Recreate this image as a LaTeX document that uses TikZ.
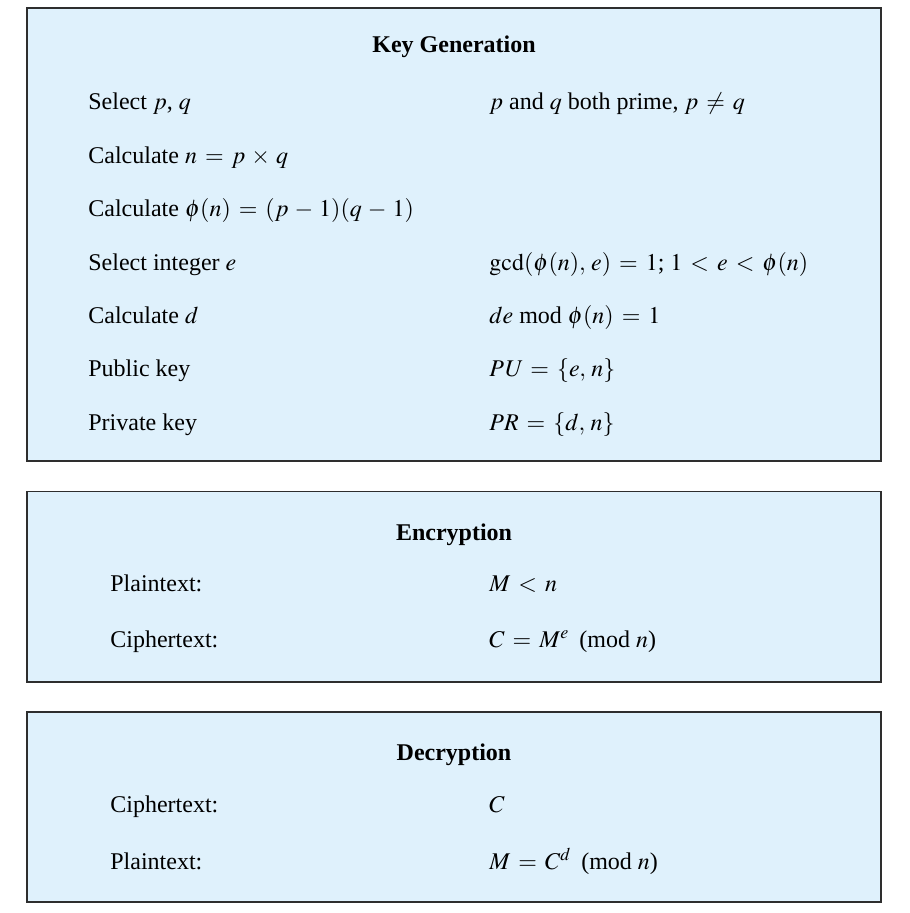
\documentclass[tikz,border=0pt]{standalone}
\usepackage{amsmath}
\usepackage{mathptmx}
\usepackage{fontspec}
\setmainfont{Liberation Serif}
\usepackage{tikz}
\usetikzlibrary{positioning}
\definecolor{Panel}{HTML}{DFF1FC}
\definecolor{Edge}{HTML}{2E2E2E}
\tikzset{panel/.style={draw=Edge,fill=Panel,line width=.75pt},head/.style={anchor=base,inner sep=0pt,font=\fontsize{12}{14}\selectfont\bfseries},item/.style={anchor=base west,inner sep=0pt,font=\fontsize{12}{14}\selectfont}}
\begin{document}
\begin{tikzpicture}[x=.5pt,y=-.5pt]
      \useasboundingbox(0,0)rectangle(909,913);
      % key generation
      \draw[panel](27,8)rectangle(881,461);
      \node[head](kgTitle)at(454,53){Key Generation};
      \node[item](selPQ)at(88,110){Select $p$, $q$};
      \node[item](calcN)at(88,163.5){Calculate $n \,=\, p \,\times\, q$};
      \node[item](calcPhi)at(88,217){Calculate $\phi(n) \,=\, (p \,-\, 1)(q \,-\, 1)$};
      \node[item](selE)at(88,270.5){Select integer $e$};
      \node[item](calcD)at(88,324){Calculate $d$};
      \node[item](pubKey)at(88,377){Public key};
      \node[item](privKey)at(88,430){Private key};
      \node[item](condPQ)at(489,110){$p$ and $q$ both prime, $p \,\neq\, q$};
      \node[item](condE)at(489,270.5){$\gcd(\phi(n),\, e) \,=\, 1$; $1 \,<\, e \,<\, \phi(n)$};
      \node[item](condD)at(489,324){$de$ mod $\phi(n) \,=\, 1$};
      \node[item](valPU)at(489,377){$\mathit{PU} \,=\, \{e,\, n\}$};
      \node[item](valPR)at(489,430){$\mathit{PR} \,=\, \{d,\, n\}$};
      % encryption
      \draw[panel](27,491.5)rectangle(881,682);
      \node[head](encTitle)at(454,540){Encryption};
      \node[item](encPlain)at(110,591){Plaintext:};
      \node[item](encCipher)at(110,647){Ciphertext:};
      \node[item](encM)at(489,591){$M \,<\, n$};
      \node[item](encC)at(489,647){$C \,=\, M^{e}$\, (mod $n$)};
      % decryption
      \draw[panel](27,712)rectangle(881,902);
      \node[head](decTitle)at(454,760){Decryption};
      \node[item](decCipher)at(110,812){Ciphertext:};
      \node[item](decPlain)at(110,869){Plaintext:};
      \node[item](decC)at(489,812){$C$};
      \node[item](decM)at(489,869){$M \,=\, C^{d}$\, (mod $n$)};
    \end{tikzpicture}
\end{document}
